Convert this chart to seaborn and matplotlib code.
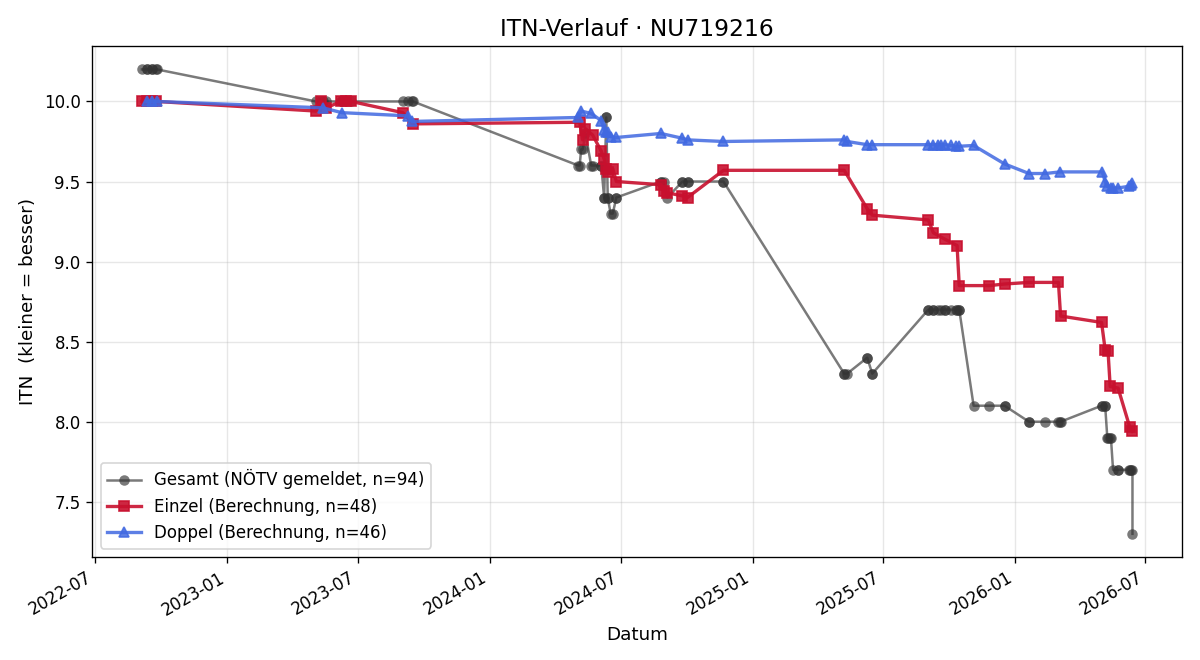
import matplotlib
matplotlib.use("Agg")
import matplotlib.pyplot as plt
import matplotlib.dates as mdates
import seaborn as sns
import pandas as pd

# Einzel (Berechnung)
einzel_dates = [
    "2022-09-04", "2022-09-11", "2022-09-18", "2022-09-24",
    "2023-05-04", "2023-05-11", "2023-05-18", "2023-06-08", "2023-06-15", "2023-06-22",
    "2023-09-02", "2023-09-16",
    "2024-05-05", "2024-05-09", "2024-05-13", "2024-05-23", "2024-06-04", "2024-06-08",
    "2024-06-11", "2024-06-13", "2024-06-20", "2024-06-25",
    "2024-08-26", "2024-08-30", "2024-09-04", "2024-09-25", "2024-10-02", "2024-11-21",
    "2025-05-08", "2025-06-09", "2025-06-16",
    "2025-09-02", "2025-09-09", "2025-09-25", "2025-10-12", "2025-10-15",
    "2025-11-26", "2025-12-17",
    "2026-01-20", "2026-03-02", "2026-03-05",
    "2026-05-01", "2026-05-06", "2026-05-10", "2026-05-13", "2026-05-24",
    "2026-06-09", "2026-06-13",
]
einzel_itn = [
    10.0, 10.0, 10.0, 10.0,
    9.94, 10.0, 9.96, 10.0, 10.0, 10.0,
    9.93, 9.86,
    9.87, 9.76, 9.83, 9.79, 9.69, 9.64,
    9.58, 9.56, 9.58, 9.50,
    9.48, 9.44, 9.43, 9.41, 9.40, 9.57,
    9.57, 9.33, 9.29,
    9.26, 9.18, 9.14, 9.10, 8.85,
    8.85, 8.86,
    8.87, 8.87, 8.66,
    8.62, 8.45, 8.44, 8.22, 8.21,
    7.97, 7.94,
]

# Doppel (Berechnung)
doppel_dates = [
    "2022-09-11", "2022-09-18", "2022-09-25",
    "2023-05-14", "2023-06-09", "2023-09-09", "2023-09-15",
    "2024-05-03", "2024-05-07", "2024-05-21", "2024-06-04", "2024-06-08",
    "2024-06-11", "2024-06-13", "2024-06-17", "2024-06-25",
    "2024-08-26", "2024-09-25", "2024-10-02", "2024-11-21",
    "2025-05-08", "2025-05-12", "2025-06-09", "2025-06-16",
    "2025-09-02", "2025-09-09", "2025-09-15", "2025-09-20", "2025-09-25",
    "2025-10-04", "2025-10-10", "2025-10-14", "2025-11-04", "2025-12-17",
    "2026-01-20", "2026-02-12", "2026-03-04",
    "2026-05-02", "2026-05-06", "2026-05-09", "2026-05-14", "2026-05-17",
    "2026-05-24", "2026-06-08", "2026-06-11", "2026-06-13",
]
doppel_itn = [
    10.0, 10.0, 10.0,
    9.96, 9.93, 9.91, 9.875,
    9.90, 9.94, 9.925, 9.88, 9.82,
    9.81, 9.81, 9.78, 9.775,
    9.80, 9.77, 9.76, 9.75,
    9.76, 9.75, 9.73, 9.73,
    9.73, 9.73, 9.73, 9.73, 9.73,
    9.725, 9.72, 9.72, 9.725, 9.61,
    9.55, 9.55, 9.56,
    9.56, 9.50, 9.47, 9.46, 9.46,
    9.46, 9.47, 9.48, 9.49,
]

# Gesamt (NÖTV gemeldet) - one value per match, i.e. on every Einzel and Doppel date
gesamt_dates = sorted(einzel_dates + doppel_dates)
gesamt_itn = (
    [10.2] * 7
    + [10.0] * 12
    + [9.6, 9.6, 9.7, 9.7, 9.8, 9.6, 9.6, 9.6, 9.6, 9.4,
       9.4, 9.9, 9.9, 9.4, 9.4, 9.3, 9.3, 9.4, 9.4]
    + [9.5, 9.5, 9.5, 9.4, 9.5, 9.5, 9.5, 9.5, 9.5, 9.5]
    + [8.3, 8.3, 8.3, 8.4, 8.4, 8.3, 8.3]
    + [8.7] * 13 + [8.1] * 4
    + [8.0] * 6 + [8.1] * 4 + [7.9] * 4 + [7.7] * 7 + [7.3]
)

spieler = "NU719216"

fig, ax = plt.subplots(figsize=(10, 5.5), dpi=120)

series = [
    (gesamt_dates, gesamt_itn, f"Gesamt (NÖTV gemeldet, n={len(gesamt_itn)})",
     "#333333", "o", 6.3, 1.5, 0.65, 0),
    (einzel_dates, einzel_itn, f"Einzel (Berechnung, n={len(einzel_itn)})",
     "#c8102e", "s", 6.5, 2, 0.9, 1),
    (doppel_dates, doppel_itn, f"Doppel (Berechnung, n={len(doppel_itn)})",
     "royalblue", "^", 6.5, 2, 0.85, 1),
]
for dates, vals, label, col, mk, ms, lw, a, mew in series:
    df = pd.DataFrame({"Datum": pd.to_datetime(dates), "ITN": vals})
    sns.lineplot(data=df, x="Datum", y="ITN", ax=ax, estimator=None, sort=False,
                 color=col, marker=mk, markersize=ms, linewidth=lw, alpha=a,
                 markeredgecolor=col, markeredgewidth=mew, label=label)

ax.xaxis.set_major_locator(mdates.MonthLocator(bymonth=[1, 7]))
ax.xaxis.set_major_formatter(mdates.DateFormatter("%Y-%m"))
ax.grid(True, alpha=0.3)
ax.tick_params(labelsize=10)
ax.set_title(f"ITN-Verlauf · {spieler}", fontsize=14)
ax.set_xlabel("Datum", fontsize=11)
ax.set_ylabel("ITN  (kleiner = besser)", fontsize=11)
ax.legend(loc="lower left", fontsize=10)
fig.autofmt_xdate()
fig.subplots_adjust(left=0.077, right=0.985, top=0.930, bottom=0.156)
fig.savefig("out.png")
